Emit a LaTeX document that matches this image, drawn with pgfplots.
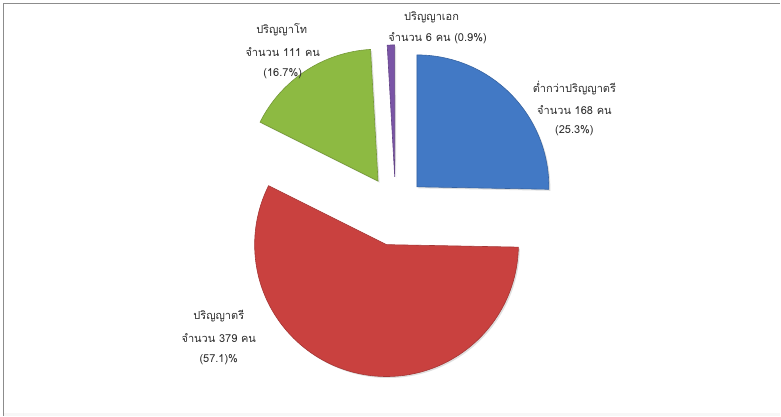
\documentclass[border=0pt]{standalone}
\usepackage{pgfplots}
\pgfplotsset{compat=1.18}
\usepackage{pgfplotstable}
\usepackage{fontspec}
\setmainfont{Loma}[Script=Thai]
\usetikzlibrary{shadows}

\definecolor{sblue}{RGB}{66,121,197}
\definecolor{sred}{RGB}{201,65,63}
\definecolor{sgreen}{RGB}{141,186,66}
\definecolor{spurple}{RGB}{122,84,166}
\definecolor{txt}{RGB}{45,45,45}

% value = number of people, explode = offset of the slice from the centre (px)
\pgfplotstableread{
name value explode
a 168 30
b 379 38
c 111 32
d 6 31
}\piedata

\pgfplotstablegetelem{0}{value}\of\piedata \edef\vA{\pgfplotsretval}
\pgfplotstablegetelem{1}{value}\of\piedata \edef\vB{\pgfplotsretval}
\pgfplotstablegetelem{2}{value}\of\piedata \edef\vC{\pgfplotsretval}
\pgfplotstablegetelem{3}{value}\of\piedata \edef\vD{\pgfplotsretval}
\pgfplotstablegetelem{0}{explode}\of\piedata \edef\eA{\pgfplotsretval}
\pgfplotstablegetelem{1}{explode}\of\piedata \edef\eB{\pgfplotsretval}
\pgfplotstablegetelem{2}{explode}\of\piedata \edef\eC{\pgfplotsretval}
\pgfplotstablegetelem{3}{explode}\of\piedata \edef\eD{\pgfplotsretval}

\pgfmathsetmacro\tot{\vA+\vB+\vC+\vD}
\pgfmathsetmacro\aA{90}
\pgfmathsetmacro\aB{\aA-360*(\vA/\tot)}
\pgfmathsetmacro\aC{\aB-360*(\vB/\tot)}
\pgfmathsetmacro\aD{\aC-360*(\vC/\tot)}
\pgfmathsetmacro\aE{\aD-360*(\vD/\tot)}

\def\cx{396}
\def\cy{208}
\def\R{132}

\newcommand\pieslice[4]{% start, end, explode, colour
  \pgfmathsetmacro\mid{(#1+#2)/2}%
  \pgfmathsetmacro\px{\cx+#3*cos(\mid)}%
  \pgfmathsetmacro\py{\cy+#3*sin(\mid)}%
  \edef\temp{\noexpand\fill[#4, draw=#4!82!black, line width=0.6pt,
     drop shadow={shadow xshift=1.5pt, shadow yshift=-1.5pt, opacity=0.25}]
     (axis cs:\px,\py) -- ++(#1:\R pt) arc[start angle=#1, end angle=#2, radius=\R pt] -- cycle;}%
  \temp}

\begin{document}
\begin{tikzpicture}
\begin{axis}[
  scale only axis, width=781pt, height=416pt,
  xmin=0, xmax=781, ymin=0, ymax=416,
  hide axis, clip=false,
]
\fill[white] (axis cs:0,0) rectangle (axis cs:781,416);
\fill[black!3] (axis cs:3,0) rectangle (axis cs:781,3);
\draw[black!45, line width=1.6pt] (axis cs:3.5,0) -- (axis cs:3.5,412.5) -- (axis cs:781,412.5);

\pieslice{\aA}{\aB}{\eA}{sblue}
\pieslice{\aB}{\aC}{\eB}{sred}
\pieslice{\aC}{\aD}{\eC}{sgreen}
\pieslice{\aD}{\aE}{\eD}{spurple}

\begin{scope}[every node/.style={text=txt, font=\fontsize{11}{13}\selectfont, inner sep=0pt}]
\node at (axis cs:432,399) {ปริญญาเอก};
\node at (axis cs:438,378) {จำนวน 6 คน (0.9\%)};
\node at (axis cs:282,386) {ปริญญาโท};
\node at (axis cs:283,364) {จำนวน 111 คน};
\node at (axis cs:283,342) {(16.7\%)};
\node at (axis cs:575,328) {ต่ำกว่าปริญญาตรี};
\node at (axis cs:575,306) {จำนวน 168 คน};
\node at (axis cs:575,285) {(25.3\%)};
\node at (axis cs:219,100) {ปริญญาตรี};
\node at (axis cs:219,78) {จำนวน 379 คน};
\node at (axis cs:219,56) {(57.1)\%};
\end{scope}
\end{axis}
\end{tikzpicture}
\end{document}
